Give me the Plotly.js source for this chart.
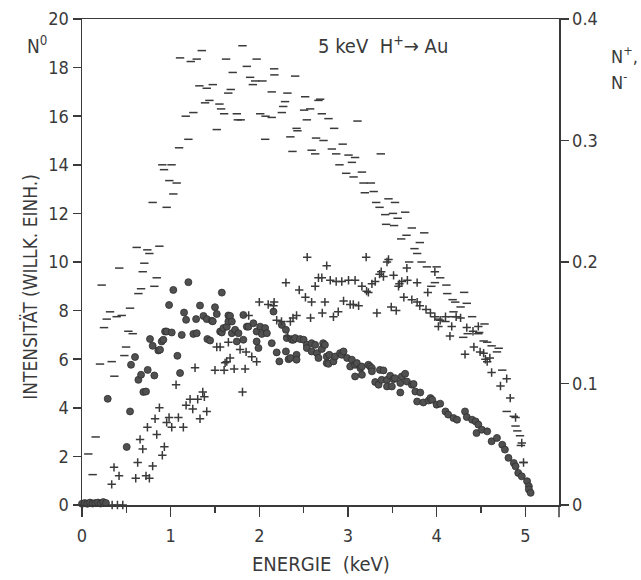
<!DOCTYPE html>
<html>
<head>
<meta charset="utf-8">
<script src="https://cdn.plot.ly/plotly-3.0.1.min.js"></script>
<style>
  html, body { margin: 0; padding: 0; background: #fff; }
  #chart { width: 641px; height: 580px; }
</style>
</head>
<body>
<div id="chart"></div>
<script>
// ---- N0 (circles), left axis, arbitrary units ----
const n0Energy = [0.00,0.03,0.06,0.09,0.12,0.15,0.18,0.21,0.24,0.27,0.29,0.504,0.542,0.553,0.598,0.636,0.666,0.692,0.722,0.741,0.767,0.797,0.816,0.861,0.88,0.899,0.918,0.937,0.955,0.982,1.012,1.03,1.076,1.106,1.125,1.151,1.174,1.20,1.256,1.287,1.294,1.331,1.37,1.407,1.414,1.445,1.464,1.475,1.50,1.52,1.558,1.577,1.577,1.595,1.633,1.651,1.651,1.67,1.69,1.69,1.727,1.746,1.765,1.82,1.82,1.859,1.877,1.933,1.97,1.97,1.99,2.01,2.028,2.066,2.085,2.14,2.16,2.196,2.226,2.254,2.30,2.30,2.31,2.33,2.35,2.367,2.385,2.404,2.42,2.42,2.46,2.50,2.536,2.536,2.59,2.59,2.63,2.65,2.667,2.705,2.72,2.74,2.76,2.76,2.78,2.79,2.836,2.855,2.91,2.93,2.95,2.99,3.025,3.044,3.08,3.08,3.10,3.14,3.157,3.157,3.23,3.25,3.27,3.27,3.307,3.345,3.36,3.38,3.40,3.44,3.44,3.476,3.495,3.514,3.53,3.59,3.59,3.607,3.645,3.665,3.72,3.74,3.76,3.78,3.815,3.85,3.91,3.93,3.95,4.00,4.04,4.10,4.13,4.19,4.23,4.32,4.34,4.40,4.44,4.45,4.47,4.51,4.57,4.62,4.68,4.74,4.77,4.81,4.87,4.89,4.92,4.96,5.02,5.04,5.04,5.06];
const n0Value  = [0.05,0.08,0.05,0.10,0.06,0.08,0.10,0.06,0.12,0.08,4.37,2.39,3.85,5.77,6.09,5.15,5.36,4.65,4.67,5.56,6.83,6.55,5.33,6.36,6.39,6.73,6.80,7.14,7.14,8.23,7.10,8.85,6.14,5.43,7.00,7.92,7.62,9.17,7.04,7.65,7.07,8.21,7.78,7.65,6.83,6.77,7.58,7.56,8.14,7.86,7.14,8.74,7.10,7.28,7.34,7.80,7.55,7.78,7.07,7.55,7.21,6.73,7.07,7.82,6.80,7.34,7.34,7.48,7.14,6.73,6.46,7.34,7.04,7.28,7.07,6.66,7.96,6.28,5.91,7.41,7.21,6.32,6.87,6.00,6.05,6.80,6.80,6.87,6.18,5.98,6.83,6.80,6.59,6.46,6.66,6.32,6.59,6.25,6.05,6.42,6.66,6.59,6.11,5.84,5.81,6.18,5.91,6.11,6.25,6.18,6.32,6.05,5.70,5.98,5.77,5.29,5.84,5.63,5.70,5.36,5.77,5.70,5.63,5.50,5.06,4.95,5.56,5.15,5.54,5.15,4.88,5.32,4.88,5.18,5.22,5.02,4.63,5.29,5.40,5.08,4.95,4.98,4.67,4.26,4.63,4.22,4.30,4.40,4.33,4.13,4.17,3.85,3.72,3.58,3.51,3.85,3.62,3.51,3.44,2.96,3.31,3.10,3.03,2.62,2.76,2.48,2.28,1.94,1.73,1.59,1.32,1.18,0.98,0.77,0.64,0.50];

// ---- N+ (plus signs), right axis ----
const nPlusEnergy = [0.335,0.34,0.361,0.40,0.418,0.46,0.606,0.628,0.655,0.685,0.722,0.738,0.76,0.797,0.824,0.843,0.873,0.906,0.929,0.955,0.982,1.012,1.061,1.087,1.143,1.174,1.219,1.249,1.275,1.305,1.331,1.362,1.38,1.407,1.50,1.52,1.558,1.603,1.614,1.633,1.651,1.67,1.716,1.783,1.81,1.84,1.851,1.88,1.915,1.97,2.00,2.10,2.16,2.167,2.196,2.25,2.30,2.32,2.35,2.38,2.42,2.45,2.52,2.54,2.578,2.59,2.63,2.667,2.705,2.71,2.74,2.76,2.80,2.836,2.867,2.89,2.93,2.95,3.006,3.025,3.06,3.08,3.12,3.157,3.205,3.21,3.23,3.27,3.307,3.326,3.356,3.375,3.40,3.44,3.457,3.488,3.514,3.544,3.57,3.58,3.607,3.63,3.664,3.67,3.72,3.78,3.78,3.81,3.88,3.90,3.93,3.98,3.98,4.02,4.04,4.10,4.15,4.17,4.22,4.27,4.32,4.34,4.41,4.42,4.47,4.49,4.53,4.55,4.57,4.60,4.62,4.72,4.79,4.83,4.89,4.96,4.98];
const nPlusValue  = [0.017,0.0,0.031,0.0,0.024,0.0,0.022,0.035,0.054,0.046,0.024,0.064,0.022,0.032,0.071,0.058,0.080,0.041,0.048,0.068,0.072,0.064,0.099,0.072,0.064,0.082,0.087,0.079,0.113,0.087,0.071,0.093,0.089,0.077,0.111,0.130,0.130,0.111,0.117,0.118,0.134,0.121,0.112,0.128,0.093,0.112,0.126,0.156,0.122,0.118,0.167,0.165,0.164,0.167,0.152,0.151,0.183,0.139,0.151,0.154,0.156,0.177,0.171,0.204,0.154,0.167,0.180,0.187,0.187,0.158,0.167,0.197,0.185,0.155,0.184,0.159,0.184,0.168,0.185,0.165,0.165,0.185,0.164,0.180,0.204,0.176,0.175,0.182,0.184,0.158,0.190,0.192,0.188,0.200,0.202,0.163,0.189,0.160,0.180,0.182,0.184,0.171,0.195,0.185,0.169,0.183,0.167,0.164,0.161,0.175,0.158,0.192,0.155,0.147,0.152,0.155,0.139,0.147,0.155,0.154,0.124,0.146,0.143,0.130,0.147,0.126,0.125,0.120,0.118,0.121,0.109,0.098,0.104,0.088,0.072,0.051,0.035];

// ---- N- (dashes), right axis ----
const nMinusEnergy = [0.071,0.12,0.154,0.203,0.222,0.248,0.279,0.316,0.335,0.365,0.391,0.42,0.448,0.478,0.497,0.523,0.542,0.572,0.617,0.636,0.666,0.685,0.703,0.737,0.76,0.797,0.816,0.843,0.873,0.906,0.925,0.955,0.985,1.01,1.03,1.068,1.095,1.106,1.17,1.20,1.227,1.256,1.294,1.324,1.351,1.388,1.407,1.437,1.475,1.52,1.55,1.569,1.603,1.625,1.65,1.678,1.70,1.746,1.757,1.79,1.81,1.859,1.896,1.927,1.953,1.97,2.01,2.035,2.066,2.07,2.14,2.14,2.167,2.17,2.254,2.27,2.29,2.317,2.35,2.374,2.404,2.42,2.43,2.505,2.517,2.536,2.573,2.59,2.63,2.64,2.667,2.686,2.705,2.724,2.78,2.818,2.844,2.867,2.904,2.94,2.98,3.006,3.044,3.063,3.08,3.107,3.157,3.175,3.19,3.258,3.29,3.318,3.356,3.37,3.42,3.43,3.457,3.507,3.52,3.53,3.56,3.60,3.645,3.66,3.69,3.72,3.75,3.78,3.81,3.83,3.86,3.89,3.94,3.98,4.00,4.02,4.04,4.10,4.11,4.12,4.17,4.18,4.19,4.21,4.27,4.30,4.31,4.34,4.35,4.40,4.47,4.48,4.53,4.54,4.57,4.62,4.68,4.70,4.74,4.79,4.87,4.89,4.91,4.94,4.95,4.98];
const nMinusValue  = [0.042,0.025,0.056,0.116,0.181,0.146,0.153,0.159,0.118,0.106,0.155,0.195,0.156,0.123,0.130,0.143,0.162,0.141,0.212,0.174,0.178,0.192,0.199,0.210,0.207,0.249,0.180,0.187,0.213,0.280,0.276,0.245,0.267,0.280,0.256,0.265,0.294,0.368,0.320,0.301,0.365,0.323,0.367,0.345,0.374,0.331,0.343,0.333,0.346,0.309,0.330,0.326,0.322,0.367,0.339,0.342,0.356,0.322,0.317,0.317,0.378,0.361,0.352,0.346,0.349,0.367,0.322,0.349,0.301,0.320,0.319,0.340,0.359,0.354,0.323,0.328,0.332,0.339,0.303,0.291,0.353,0.310,0.308,0.325,0.336,0.317,0.326,0.292,0.289,0.302,0.333,0.334,0.322,0.300,0.318,0.293,0.310,0.289,0.280,0.297,0.273,0.288,0.282,0.270,0.286,0.316,0.274,0.265,0.257,0.265,0.258,0.249,0.245,0.289,0.239,0.231,0.252,0.240,0.230,0.249,0.236,0.219,0.241,0.222,0.200,0.228,0.211,0.207,0.216,0.200,0.224,0.196,0.180,0.183,0.196,0.153,0.187,0.151,0.181,0.174,0.155,0.169,0.159,0.167,0.163,0.138,0.175,0.166,0.141,0.155,0.141,0.142,0.135,0.149,0.134,0.131,0.126,0.129,0.111,0.077,0.073,0.065,0.061,0.057,0.049,0.035];

// ---- axis ticks / labels ----
const xTickVals = [0,1,2,3,4,5];
const xMinorVals = [0.5,1.5,2.5,3.5,4.5];
const yLeftTicks = [0,2,4,6,8,10,12,14,16,18,20];
const yRightTicks = [0,0.1,0.2,0.3,0.4];
const yRightLabels = ['0','0.1','0.2','0.3','0.4'];

const FONT = '"DejaVu Sans Condensed", "DejaVu Sans", sans-serif';
const INK = '#3a3a3a';

const traces = [
  {
    x: n0Energy, y: n0Value, type: 'scatter', mode: 'markers', name: 'N0',
    yaxis: 'y', cliponaxis: false,
    marker: { symbol: 'circle', size: 7, color: '#505050', line: { width: 0.8, color: '#2e2e2e' } }
  },
  {
    x: nPlusEnergy, y: nPlusValue, type: 'scatter', mode: 'markers', name: 'N+',
    yaxis: 'y2', cliponaxis: false,
    marker: { symbol: 'cross-thin', size: 6, color: '#3a3a3a', line: { width: 1.5, color: '#3a3a3a' } }
  },
  {
    x: nMinusEnergy, y: nMinusValue, type: 'scatter', mode: 'markers', name: 'N-',
    yaxis: 'y2', cliponaxis: false,
    marker: { symbol: 'line-ew', size: 6, color: '#3a3a3a', line: { width: 1.5, color: '#3a3a3a' } }
  }
];

const layout = {
  width: 641, height: 580,
  margin: { l: 82, r: 82, t: 19, b: 75, pad: 0 },
  paper_bgcolor: '#ffffff', plot_bgcolor: '#ffffff',
  showlegend: false,
  font: { family: FONT, size: 17, color: INK },
  xaxis: {
    range: [0, 5.38], showgrid: false, zeroline: false,
    showline: true, linecolor: INK, linewidth: 1.5, mirror: true,
    ticks: 'outside', ticklen: 10, tickwidth: 1.5, tickcolor: INK,
    tickvals: xTickVals, ticktext: xTickVals.map(String),
    ticklabelstandoff: 4,
    minor: { tickvals: xMinorVals, ticks: 'outside', ticklen: 6, tickwidth: 1.5, tickcolor: INK },
    tickfont: { family: FONT, size: 18, color: INK }
  },
  yaxis: {
    range: [0, 20], showgrid: false, zeroline: false,
    showline: true, linecolor: INK, linewidth: 1.5,
    ticks: 'outside', ticklen: 8, tickwidth: 1.5, tickcolor: INK,
    tickvals: yLeftTicks, ticktext: yLeftTicks.map(String),
    tickfont: { family: FONT, size: 18, color: INK }
  },
  yaxis2: {
    range: [0, 0.4], overlaying: 'y', side: 'right', showgrid: false, zeroline: false,
    showline: true, linecolor: INK, linewidth: 1.5,
    ticks: 'outside', ticklen: 8, tickwidth: 1.5, tickcolor: INK,
    tickvals: yRightTicks, ticktext: yRightLabels,
    tickfont: { family: FONT, size: 18, color: INK }
  },
  shapes: [
    { type: 'line', xref: 'paper', yref: 'paper', x0: 1, x1: 1, y0: 0, y1: -0.025,
      line: { color: INK, width: 1.5 } }
  ],
  annotations: [
    { xref: 'paper', yref: 'paper', x: 0.5, y: -0.122, xanchor: 'center', yanchor: 'middle',
      text: 'ENERGIE  (keV)', showarrow: false, font: { family: FONT, size: 20, color: INK } },
    { xref: 'paper', yref: 'paper', x: -0.108, y: 0.45, xanchor: 'center', yanchor: 'middle', textangle: -90,
      text: 'INTENSITÄT (WILLK. EINH.)', showarrow: false, font: { family: FONT, size: 19, color: INK } },
    { xref: 'paper', yref: 'paper', x: -0.12, y: 0.946, xanchor: 'left', yanchor: 'middle',
      text: 'N<sup>0</sup>', showarrow: false, font: { family: FONT, size: 19, color: INK } },
    { xref: 'paper', yref: 'paper', x: 0.49, y: 0.946, xanchor: 'left', yanchor: 'middle',
      text: '5 keV  H<sup>+</sup>\u2192 Au', showarrow: false, font: { family: FONT, size: 20, color: INK } },
    { xref: 'paper', yref: 'paper', x: 1.105, y: 0.925, xanchor: 'left', yanchor: 'middle',
      text: 'N<sup>+</sup>,', showarrow: false, font: { family: FONT, size: 18, color: INK } },
    { xref: 'paper', yref: 'paper', x: 1.105, y: 0.872, xanchor: 'left', yanchor: 'middle',
      text: 'N<sup>-</sup>', showarrow: false, font: { family: FONT, size: 18, color: INK } }
  ]
};

Plotly.newPlot('chart', traces, layout, { displayModeBar: false, staticPlot: true });
</script>
</body>
</html>
